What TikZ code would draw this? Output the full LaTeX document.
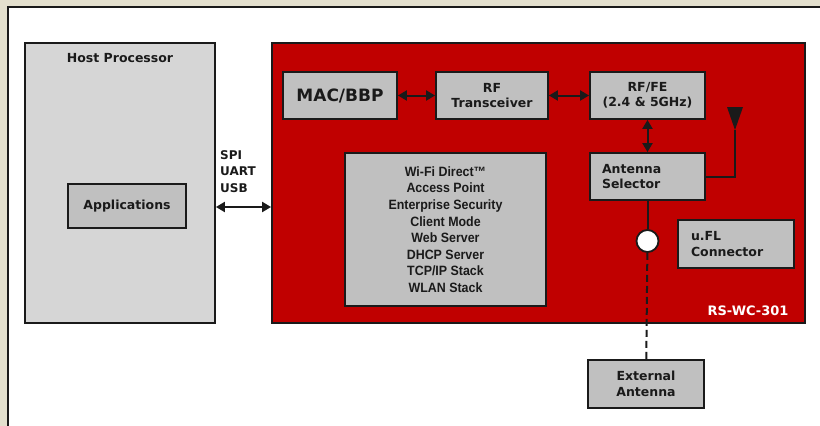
\documentclass[tikz,border=0pt]{standalone}
\usepackage{fontspec}
\setmainfont{DejaVu Sans}
\newfontfamily\listfont[FakeStretch=0.92]{Liberation Sans}
\usetikzlibrary{arrows.meta,positioning}
\definecolor{pagebg}{HTML}{E4E0CE}
\definecolor{hostgray}{HTML}{D6D6D6}
\definecolor{boxgray}{HTML}{C0C0C0}
\definecolor{modred}{HTML}{C00000}
\definecolor{inkline}{HTML}{1A1A1A}
\tikzset{
  blk/.style={draw=inkline,line width=1.8pt,fill=boxgray,inner sep=0pt,
    font=\bfseries\fontsize{12.5}{15.5}\selectfont,text=inkline,align=center},
  wire/.style={draw=inkline,line width=2pt},
  dbl/.style={wire,{Triangle[width=10pt,length=9pt]}-{Triangle[width=10pt,length=9pt]}}
}
\begin{document}
\begin{tikzpicture}[x=1pt,y=-1pt]
	\useasboundingbox (0,0) rectangle (820,426);
	\fill[pagebg] (0,0) rectangle (820,426);
	\fill[white] (8,7) rectangle (820,426);
	\draw[inkline,line width=1.4pt] (8,426) -- (8,7) -- (820,7);

	% host side
	\node(host) [blk,fill=hostgray,minimum width=190pt,minimum height=280pt] at (120,183) {};
	\node(host_t) [font=\bfseries\fontsize{12.5}{14}\selectfont,text=inkline] at (120,58) {Host Processor};
	\node(app) [blk,minimum width=118pt,minimum height=44pt] at (127,206) {Applications};

	% module
	\node(mod) [blk,fill=modred,minimum width=533pt,minimum height=280pt] at (538.5,183) {};
	\node(mod_t) [font=\bfseries\fontsize{13}{14}\selectfont,text=white,anchor=east] at (792,311) {RS-WC-301};

	\node(mac)  [blk,minimum width=114pt,minimum height=47pt,font=\bfseries\fontsize{17}{19}\selectfont] at (340,95.5) {MAC/BBP};
	\node(rft)  [blk,minimum width=112pt,minimum height=47pt] at (492,95.5) {RF\\Transceiver};
	\node(rffe) [blk,minimum width=115pt,minimum height=47pt] at (647.5,95.5) {RF/FE\\(2.4 \& 5GHz)};
	\node(asel) [blk,minimum width=115pt,minimum height=47pt,align=left,text width=91pt] at (647.5,176.5) {Antenna\\Selector};
	\node(ufl)  [blk,minimum width=116pt,minimum height=48pt,align=left,text width=90pt] at (736,244) {u.FL\\Connector};
	\node(wifi) [blk,minimum width=201pt,minimum height=153pt,
		font=\listfont\bfseries\fontsize{13.5}{16.6}\selectfont] at (445.5,229.5)
		{Wi-Fi Direct™\\Access Point\\Enterprise Security\\Client Mode\\Web Server\\DHCP Server\\TCP/IP Stack\\WLAN Stack};

	\node(jack) [circle,draw=inkline,line width=1.8pt,fill=white,minimum size=22pt,inner sep=0pt] at (647.5,241) {};
	\coordinate(ant_tip) at (735,130);
	\coordinate(ant_bend) at (735,177);

	\node(ext) [blk,minimum width=116pt,minimum height=48pt] at (646,384) {External\\Antenna};

	% interface
	\node(bus) [font=\bfseries\fontsize{12}{16.5}\selectfont,text=inkline,align=left,anchor=north west,inner sep=0pt] at (220,150) {SPI\\UART\\USB};
	\coordinate(bus_l) at (host.east |- 0,207);
	\coordinate(bus_r) at (mod.west |- 0,207);

	\draw[dbl] (bus_l) -- (bus_r);
	\draw[dbl] (mac) -- (rft);
	\draw[dbl] (rft) -- (rffe);
	\draw[dbl] (rffe) -- (asel);
	\draw[wire] (asel) -- (jack);
	\draw[wire,dash pattern=on 7pt off 4pt] (jack) -- (ext);
	\draw[wire] (asel.east |- ant_bend) -- (ant_bend) -- (ant_tip);
	\fill[inkline] (727,107) -- (743,107) -- (ant_tip) -- cycle;
\end{tikzpicture}
\end{document}
